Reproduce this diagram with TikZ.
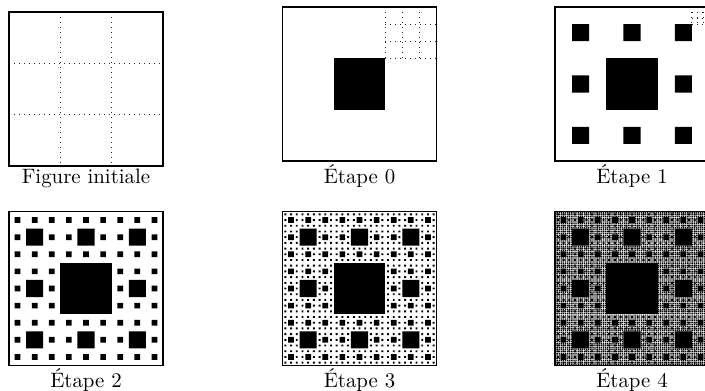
\documentclass[tikz,border=0pt]{standalone}
\tikzset{
  frame/.style={line width=0.8pt},
  dgridline/.style={dotted, line width=0.4pt, black!85},
  hole/.style={fill=black},
  lbl/.style={anchor=base, inner sep=0pt}
}
% #1 x0, #2 y0, #3 side, #4 number of hole levels
\newcommand{\carpetdraw}[4]{%
  \foreach \k in {1,...,#4} {
    \pgfmathtruncatemacro{\cm}{3^(\k-1)}
    \pgfmathsetmacro{\cs}{#3/\cm}
    \pgfmathsetmacro{\cg}{\k>4 ? 0.3 : 0}
    \pgfmathtruncatemacro{\cmm}{\cm-1}
    \foreach \a in {0,...,\cmm} {
      \path[hole] \foreach \b in {0,...,\cmm} {
        (#1+\a*\cs+\cs/3-\cg, #2+\b*\cs+\cs/3-\cg) rectangle ++(\cs/3+2*\cg,\cs/3+2*\cg)
      };
    }
  }
}
% dotted 3x3 grid: #1 x0, #2 y0, #3 side
\newcommand{\dottedgrid}[3]{%
  \foreach \i in {0,1,2,3} {
    \draw[dgridline] (#1+\i*#3/3, #2) -- (#1+\i*#3/3, #2+#3);
    \draw[dgridline] (#1, #2+\i*#3/3) -- (#1+#3, #2+\i*#3/3);
  }
}
\begin{document}
\begin{tikzpicture}[x=0.48pt, y=-0.48pt]
  \clip (0,0) rectangle (705,390);
  \fill[white] (0,0) rectangle (705,390);

  % Figure initiale
  \dottedgrid{9}{12}{154}
  \draw[frame] (9,12) rectangle (163,166);
  \node[lbl] (l0) at (86,183) {Figure initiale};

  % Etape 0
  \carpetdraw{282.5}{7}{154}{1}
  \dottedgrid{385.17}{7}{51.33}
  \draw[frame] (282.5,7) rectangle (436.5,161);
  \node[lbl] (l1) at (359.5,183) {Étape 0};

  % Etape 1
  \carpetdraw{555}{7}{154}{2}
  \dottedgrid{691.89}{7}{17.11}
  \draw[frame] (555,7) rectangle (709,161);
  \node[lbl] (l2) at (632,183) {Étape 1};

  % Etape 2
  \carpetdraw{9}{211.5}{154}{3}
  \draw[frame] (9,211.5) rectangle (163,365.5);
  \node[lbl] (l3) at (86,387.5) {Étape 2};

  % Etape 3
  \carpetdraw{282.5}{211.5}{154}{4}
  \draw[frame] (282.5,211.5) rectangle (436.5,365.5);
  \node[lbl] (l4) at (359.5,387.5) {Étape 3};

  % Etape 4
  \carpetdraw{555}{211.5}{154}{5}
  \draw[frame] (555,211.5) rectangle (709,365.5);
  \node[lbl] (l5) at (632,387.5) {Étape 4};
\end{tikzpicture}
\end{document}
